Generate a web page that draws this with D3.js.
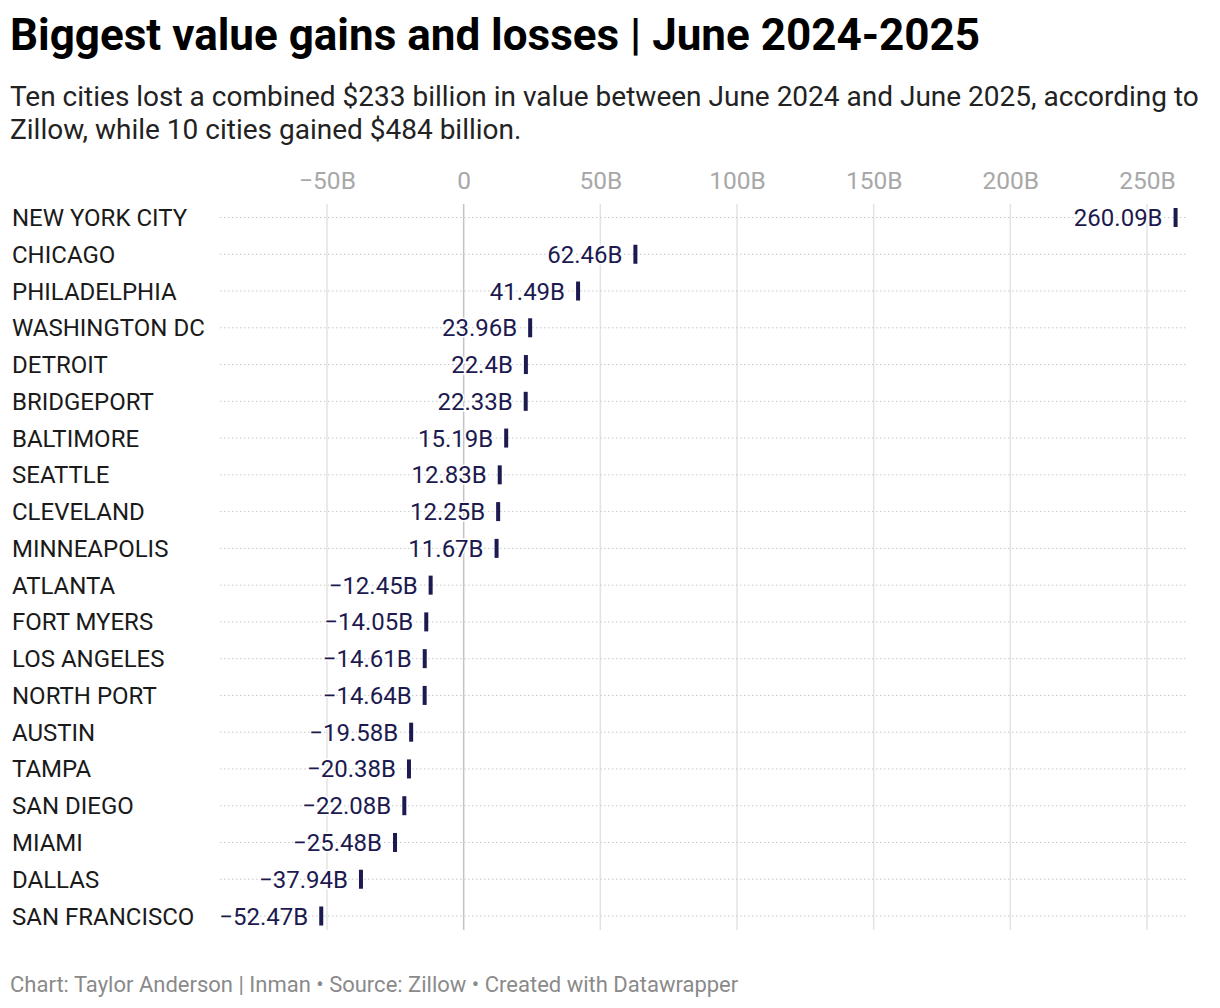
<!DOCTYPE html>
<html>
<head>
<meta charset="utf-8">
<script src="https://cdn.jsdelivr.net/npm/d3@7"></script>
<style>
  body { margin: 0; background: #fff; font-family: Roboto, "Noto Sans", sans-serif; }
</style>
</head>
<body>
<div id="chart"></div>
<script>
const cities = ["NEW YORK CITY", "CHICAGO", "PHILADELPHIA", "WASHINGTON DC", "DETROIT", "BRIDGEPORT",
  "BALTIMORE", "SEATTLE", "CLEVELAND", "MINNEAPOLIS", "ATLANTA", "FORT MYERS", "LOS ANGELES",
  "NORTH PORT", "AUSTIN", "TAMPA", "SAN DIEGO", "MIAMI", "DALLAS", "SAN FRANCISCO"];
const values = [260.09, 62.46, 41.49, 23.96, 22.4, 22.33, 15.19, 12.83, 12.25, 11.67,
  -12.45, -14.05, -14.61, -14.64, -19.58, -20.38, -22.08, -25.48, -37.94, -52.47];
const ticks = [-50, 0, 50, 100, 150, 200, 250];

const data = cities.map((c, i) => ({ city: c, value: values[i] }));

const W = 1220, H = 1008;
const svg = d3.select("#chart").append("svg")
  .attr("width", W).attr("height", H);

// TITLE + SUBTITLE
svg.append("text").attr("x", 10).attr("y", 50)
  .attr("font-size", 44).attr("font-weight", 700).attr("fill", "#000")
  .text("Biggest value gains and losses | June 2024-2025");

const sub = svg.append("text").attr("font-size", 28).attr("fill", "#222");
sub.append("tspan").attr("x", 10).attr("y", 106)
  .text("Ten cities lost a combined $233 billion in value between June 2024 and June 2025, according to");
sub.append("tspan").attr("x", 10).attr("y", 139)
  .text("Zillow, while 10 cities gained $484 billion.");

// SCALES
const x = d3.scaleLinear().domain([-50, 250]).range([327, 1147]);
const y = d3.scalePoint().domain(cities).range([217.5, 916]);

const fmt = v => (v < 0 ? "\u2212" : "") + Math.abs(v) + "B";

// GRID (vertical)
svg.append("g").selectAll("line").data(ticks).enter().append("line")
  .attr("x1", d => x(d)).attr("x2", d => x(d))
  .attr("y1", 204).attr("y2", 930)
  .attr("stroke", d => d === 0 ? "#c4c4c4" : "#e3e3e3")
  .attr("stroke-width", 1.5);

// TOP AXIS
const axis = svg.append("g").attr("transform", "translate(0,189)")
  .call(d3.axisTop(x).tickValues(ticks).tickSize(0).tickPadding(0)
    .tickFormat(d => d === 0 ? "0" : fmt(d)));
axis.select(".domain").remove();
axis.selectAll("text").attr("font-family", "Roboto, sans-serif")
  .attr("font-size", 24.5).attr("fill", "#a8a8a8");

// ROW DOTTED LINES
svg.append("g").selectAll("line").data(cities).enter().append("line")
  .attr("x1", 220).attr("x2", 1187)
  .attr("y1", d => y(d)).attr("y2", d => y(d))
  .attr("stroke", "#c8c8c8").attr("stroke-width", 1)
  .attr("stroke-dasharray", "1.5,2.5");

// CITY LABELS
svg.append("g").selectAll("text").data(data).enter().append("text")
  .attr("x", 12).attr("y", d => y(d.city) + 8.5)
  .attr("font-size", 24).attr("fill", "#1a1a1a")
  .text(d => d.city);

// MARKERS
svg.append("g").selectAll("rect").data(data).enter().append("rect")
  .attr("x", d => x(d.value) - 1).attr("y", d => y(d.city) - 9.5)
  .attr("width", 4).attr("height", 19)
  .attr("fill", "#1c1a4f");

// VALUE LABELS
svg.append("g").selectAll("text").data(data).enter().append("text")
  .attr("x", d => x(d.value) - 12).attr("y", d => y(d.city) + 8.5)
  .attr("text-anchor", "end")
  .attr("font-size", 24).attr("fill", "#1c1a4f")
  .attr("paint-order", "stroke").attr("stroke", "#fff").attr("stroke-width", 3)
  .text(d => fmt(d.value));

// FOOTER
svg.append("text").attr("x", 10).attr("y", 992)
  .attr("font-size", 22).attr("fill", "#8a8a8a")
  .text("Chart: Taylor Anderson | Inman \u2022 Source: Zillow \u2022 Created with Datawrapper");
</script>
</body>
</html>
